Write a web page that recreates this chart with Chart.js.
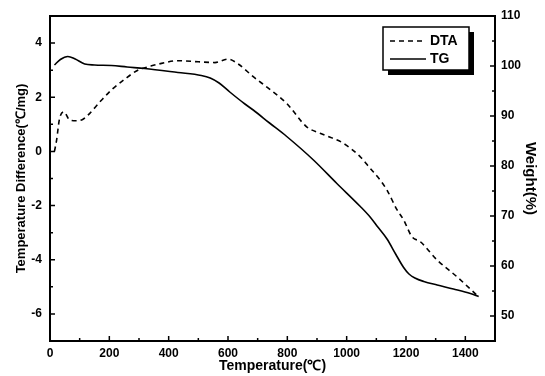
<!DOCTYPE html>
<html>
<head>
<meta charset="utf-8">
<script src="https://cdn.jsdelivr.net/npm/chart.js@4"></script>
<style>
  body { margin: 0; background: #fff; }
  canvas { display: block; }
</style>
</head>
<body>
<canvas id="taChart" width="545" height="376"></canvas>
<script>
// DTA curve (left axis)
const dtaTemp = [15, 22, 32, 47, 66, 90, 110, 128, 170, 207, 250, 296, 340, 376, 431, 500, 556, 600, 634, 685, 740, 798, 865, 910, 950, 989, 1046, 1079, 1113, 1136, 1170, 1192, 1220, 1248, 1305, 1372, 1445];
const dtaValue = [0.0, 0.4, 1.2, 1.46, 1.16, 1.13, 1.18, 1.34, 1.85, 2.27, 2.65, 3.0, 3.15, 3.25, 3.35, 3.31, 3.28, 3.41, 3.23, 2.76, 2.3, 1.77, 0.91, 0.67, 0.5, 0.3, -0.2, -0.62, -1.06, -1.43, -2.16, -2.53, -3.15, -3.33, -4.01, -4.63, -5.37];

// TG curve (right axis)
const tgTemp = [15, 35, 60, 85, 117, 150, 207, 260, 319, 431, 510, 540, 570, 606, 657, 685, 740, 798, 888, 967, 1046, 1079, 1105, 1136, 1165, 1192, 1210, 1230, 1260, 1305, 1360, 1417, 1445];
const tgWeight = [100.2, 101.3, 101.9, 101.4, 100.4, 100.2, 100.1, 99.8, 99.5, 98.7, 98.1, 97.6, 96.6, 94.8, 92.4, 91.2, 88.6, 85.9, 81.2, 76.5, 71.9, 69.8, 67.8, 65.4, 62.4, 59.7, 58.4, 57.6, 56.9, 56.2, 55.4, 54.5, 53.9];

// tick labels
const xTicks = [0, 200, 400, 600, 800, 1000, 1200, 1400];
const leftTicks = [-6, -4, -2, 0, 2, 4];
const rightTicks = [50, 60, 70, 80, 90, 100, 110];

Chart.defaults.font.family = '"Liberation Sans", Arial, sans-serif';
Chart.defaults.color = '#000';

// frame + inward ticks
const framePlugin = {
  id: 'frame',
  afterDatasetsDraw(chart) {
    const { ctx, chartArea: a, scales } = chart;
    ctx.save();
    ctx.strokeStyle = '#000';
    ctx.lineWidth = 2;
    ctx.strokeRect(a.left, a.top, a.right - a.left, a.bottom - a.top);
    ctx.lineWidth = 1.5;
    ctx.beginPath();
    for (let v = 0; v <= 1500; v += 100) {
      const x = scales.x.getPixelForValue(v);
      const len = v % 200 === 0 ? 5 : 3;
      ctx.moveTo(x, a.bottom); ctx.lineTo(x, a.bottom - len);
    }
    for (let v = -7; v <= 5; v += 1) {
      const y = scales.y.getPixelForValue(v);
      const len = v % 2 === 0 ? 5 : 3;
      ctx.moveTo(a.left, y); ctx.lineTo(a.left + len, y);
    }
    for (let v = 45; v <= 110; v += 5) {
      const y = scales.y1.getPixelForValue(v);
      const len = v % 10 === 0 ? 5 : 3;
      ctx.moveTo(a.right, y); ctx.lineTo(a.right - len, y);
    }
    ctx.stroke();
    ctx.restore();
  }
};

// boxed legend with shadow
const legendPlugin = {
  id: 'boxLegend',
  afterDraw(chart) {
    const ctx = chart.ctx;
    const bx = 383, by = 27, bw = 86, bh = 43;
    ctx.save();
    ctx.fillStyle = '#000';
    ctx.fillRect(bx + 5, by + 5, bw, bh);
    ctx.fillStyle = '#fff';
    ctx.fillRect(bx, by, bw, bh);
    ctx.strokeStyle = '#000';
    ctx.lineWidth = 1.5;
    ctx.strokeRect(bx, by, bw, bh);
    ctx.font = 'bold 14px "Liberation Sans", Arial, sans-serif';
    ctx.textBaseline = 'middle';
    chart.data.datasets.forEach((ds, i) => {
      const y = by + 14 + i * 18;
      ctx.beginPath();
      ctx.lineWidth = 1.5;
      ctx.setLineDash(ds.borderDash || []);
      ctx.moveTo(bx + 7, y);
      ctx.lineTo(bx + 43, y);
      ctx.stroke();
      ctx.setLineDash([]);
      ctx.fillStyle = '#000';
      ctx.fillText(ds.label, bx + 47, y);
    });
    ctx.restore();
  }
};

const plain = v => String(v);

new Chart(document.getElementById('taChart'), {
  type: 'line',
  data: {
    datasets: [
      {
        label: 'DTA',
        data: dtaTemp.map((t, i) => ({ x: t, y: dtaValue[i] })),
        yAxisID: 'y',
        borderColor: '#000',
        borderWidth: 1.6,
        borderDash: [5, 4],
        pointRadius: 0,
        cubicInterpolationMode: 'monotone'
      },
      {
        label: 'TG',
        data: tgTemp.map((t, i) => ({ x: t, y: tgWeight[i] })),
        yAxisID: 'y1',
        borderColor: '#000',
        borderWidth: 1.6,
        pointRadius: 0,
        cubicInterpolationMode: 'monotone'
      }
    ]
  },
  options: {
    responsive: false,
    animation: false,
    devicePixelRatio: 1,
    layout: { padding: { top: 16, right: 0, left: 0, bottom: 0 } },
    plugins: { legend: { display: false }, tooltip: { enabled: false } },
    scales: {
      x: {
        type: 'linear',
        min: 0,
        max: 1500,
        afterBuildTicks: s => { s.ticks = xTicks.map(v => ({ value: v })); },
        afterFit: s => { s.height = 35; },
        grid: { display: false, drawTicks: false },
        border: { display: false },
        ticks: { padding: 5, maxRotation: 0, callback: plain, font: { size: 12, weight: 'bold' } },
        title: { display: true, text: 'Temperature(℃)', font: { size: 14, weight: 'bold' }, padding: { top: 0, bottom: 1 } }
      },
      y: {
        position: 'left',
        min: -7,
        max: 5,
        afterBuildTicks: s => { s.ticks = leftTicks.map(v => ({ value: v })); },
        afterFit: s => { s.width = 50; },
        grid: { display: false, drawTicks: false },
        border: { display: false },
        ticks: { padding: 8, callback: plain, font: { size: 12, weight: 'bold' } },
        title: { display: true, text: 'Temperature Difference(℃/mg)', font: { size: 13, weight: 'bold' }, padding: { top: 14, bottom: 0 } }
      },
      y1: {
        position: 'right',
        min: 45,
        max: 110,
        afterBuildTicks: s => { s.ticks = rightTicks.map(v => ({ value: v })); },
        afterFit: s => { s.width = 50; },
        grid: { display: false, drawTicks: false },
        border: { display: false },
        ticks: { padding: 6, callback: plain, font: { size: 12, weight: 'bold' } },
        title: { display: true, text: 'Weight(%)', font: { size: 15, weight: 'bold' }, padding: { top: 6, bottom: 0 } }
      }
    }
  },
  plugins: [framePlugin, legendPlugin]
});
</script>
</body>
</html>
